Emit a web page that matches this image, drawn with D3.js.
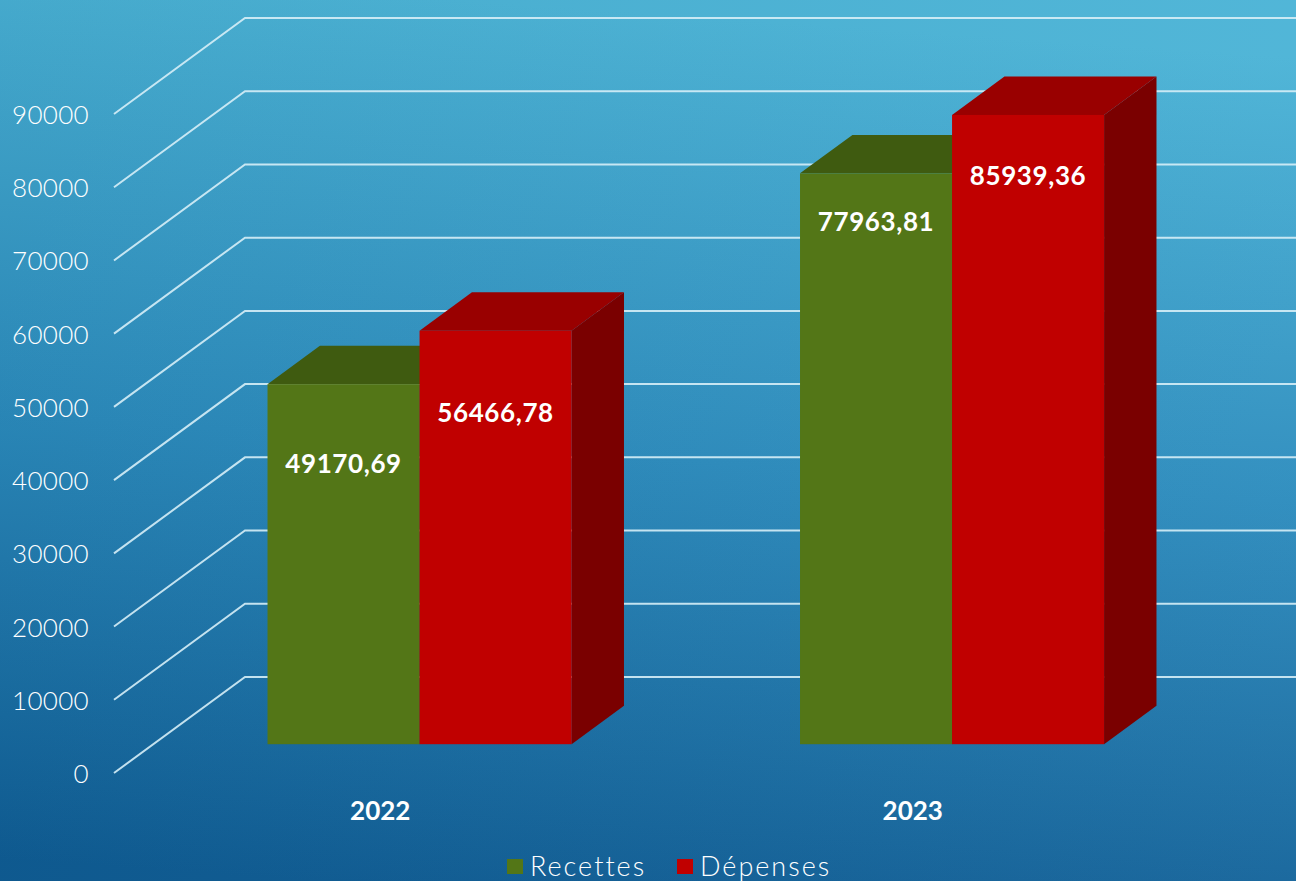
<!DOCTYPE html>
<html><head><meta charset="utf-8">
<script src="https://cdn.jsdelivr.net/npm/d3@7"></script>
<style>html,body{margin:0;padding:0;overflow:hidden;background:#1b6ea6}</style>
</head><body>
<svg id="chart" width="1296" height="881"></svg>
<script>
// ---- data ----
const categories = ["2022", "2023"];
const seriesNames = ["Recettes", "Dépenses"];
const recettes = [49170.69, 77963.81];
const depenses = [56466.78, 85939.36];
const valueLabels = [["49170,69", "77963,81"], ["56466,78", "85939,36"]];
const yTicks = [0, 10000, 20000, 30000, 40000, 50000, 60000, 70000, 80000, 90000];

// ---- layout ----
const W = 1296, H = 881;
const DX = 131, DY = 96;          // full depth offset of the 3D floor
const Z0 = 0.3, Z1 = 0.7;         // bar depth range
const colors = {
  Recettes: {front: "#537617", top: "#3f5b10", side: "#34490d"},
  "Dépenses": {front: "#c00000", top: "#990000", side: "#7a0000"}
};
const labelDy = {Recettes: [79, 48], "Dépenses": [81, 60]};
const font = "Lato, 'Open Sans', 'DejaVu Sans', sans-serif";

const svg = d3.select("#chart");
const defs = svg.append("defs");
const grad = defs.append("linearGradient").attr("id", "bg")
  .attr("x1", "0.35").attr("y1", "0").attr("x2", "0.25").attr("y2", "1");
grad.append("stop").attr("offset", "0").attr("stop-color", "#4ab3d6");
grad.append("stop").attr("offset", "0.5").attr("stop-color", "#2b8bbd");
grad.append("stop").attr("offset", "1").attr("stop-color", "#0f5d95");
const grad2 = defs.append("linearGradient").attr("id", "bg2")
  .attr("x1", "0").attr("y1", "0").attr("x2", "1").attr("y2", "0");
grad2.append("stop").attr("offset", "0").attr("stop-color", "#000").attr("stop-opacity", 0.04);
grad2.append("stop").attr("offset", "1").attr("stop-color", "#fff").attr("stop-opacity", 0.04);
svg.append("rect").attr("width", W).attr("height", H).attr("fill", "url(#bg)");
svg.append("rect").attr("width", W).attr("height", H).attr("fill", "url(#bg2)");

// scales (front plane)
const y = d3.scaleLinear().domain([0, 90000]).range([773, 114]);
const x0 = d3.scaleBand().domain(categories).range([114, 1179])
  .paddingInner(0.429).paddingOuter(0.2145);
const x1 = d3.scaleBand().domain(seriesNames).range([0, x0.bandwidth()]);

const P = (xf, v, z) => [xf + z * DX, y(v) - z * DY];
const poly = pts => "M" + pts.map(p => p.join(",")).join("L") + "Z";

// gridlines: floor diagonal + back wall
const grid = svg.append("g");
yTicks.forEach(t => {
  const a = P(114, t, 0), b = P(114, t, 1);
  grid.append("path")
    .attr("d", `M${a[0]},${a[1]}L${b[0]},${b[1]}L${W + 5},${b[1]}`)
    .attr("fill", "none").attr("stroke", "#d6eef7").attr("stroke-opacity", 0.9)
    .attr("stroke-width", 2);
});

// y tick labels
svg.append("g").selectAll("text").data(yTicks).join("text")
  .attr("x", 89).attr("y", d => y(d))
  .attr("text-anchor", "end").attr("dominant-baseline", "central")
  .attr("fill", "#fff").attr("font-family", font).attr("font-weight", 300)
  .attr("font-size", 26).attr("letter-spacing", 0.3).text(d => d);

// bars
const seriesData = [recettes, depenses];
const bars = svg.append("g");
categories.forEach((c, ci) => {
  seriesNames.forEach((s, si) => {
    const v = seriesData[si][ci];
    const xl = x0(c) + x1(s), xr = xl + x1.bandwidth();
    const col = colors[s];
    const g = bars.append("g");
    // side
    g.append("path").attr("d", poly([P(xr, 0, Z0), P(xr, 0, Z1), P(xr, v, Z1), P(xr, v, Z0)]))
      .attr("fill", col.side);
    // top
    g.append("path").attr("d", poly([P(xl, v, Z0), P(xl, v, Z1), P(xr, v, Z1), P(xr, v, Z0)]))
      .attr("fill", col.top);
    // front
    const f0 = P(xl, v, Z0), f1 = P(xr, 0, Z0);
    g.append("rect").attr("x", f0[0]).attr("y", f0[1])
      .attr("width", f1[0] - f0[0]).attr("height", f1[1] - f0[1]).attr("fill", col.front);
    // value label
    g.append("text").attr("x", (f0[0] + f1[0]) / 2).attr("y", f0[1] + labelDy[s][ci])
      .attr("text-anchor", "middle").attr("dominant-baseline", "central")
      .attr("fill", "#fff").attr("font-family", font).attr("font-weight", 700)
      .attr("font-size", 26).attr("letter-spacing", 0.6).text(valueLabels[si][ci]);
  });
});

// category labels
svg.append("g").selectAll("text").data(categories).join("text")
  .attr("x", d => x0(d) + x0.bandwidth() / 2).attr("y", 810)
  .attr("text-anchor", "middle").attr("dominant-baseline", "central")
  .attr("fill", "#fff").attr("font-family", font).attr("font-weight", 700)
  .attr("font-size", 26).text(d => d);

// legend
const legend = svg.append("g");
const legX = [507, 677];
seriesNames.forEach((s, i) => {
  legend.append("rect").attr("x", legX[i]).attr("y", 859).attr("width", 16).attr("height", 15)
    .attr("fill", colors[s].front);
  legend.append("text").attr("x", legX[i] + 23).attr("y", 876)
    .attr("fill", "#fff").attr("font-family", font).attr("font-weight", 300)
    .attr("font-size", 27).attr("letter-spacing", 2).text(s);
});
</script>
</body></html>
